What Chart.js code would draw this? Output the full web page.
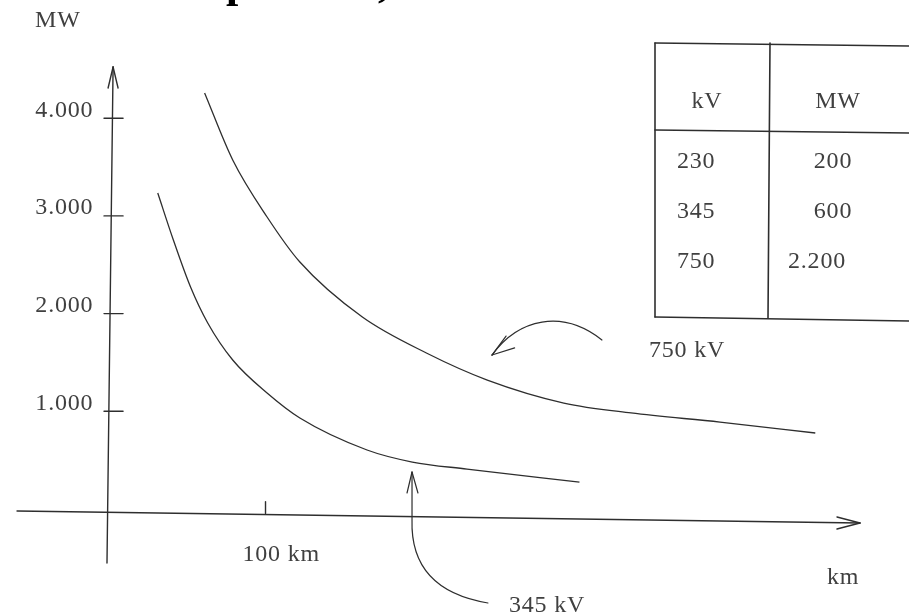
<!DOCTYPE html>
<html><head><meta charset="utf-8">
<script src="https://cdn.jsdelivr.net/npm/chart.js@4.4.0/dist/chart.umd.min.js"></script>
<style>html,body{margin:0;padding:0;background:#fff}#wrap{width:909px;height:616px;position:relative}</style>
</head><body><div id="wrap"><canvas id="c"></canvas></div>
<script>
// ---- data ----
const distanceKm345 = [31, 41, 52, 63, 79, 101, 122, 165, 194, 229, 301];
const powerMW345    = [3234, 2753, 2272, 1904, 1525, 1187, 931, 604, 481, 409, 276];
const distanceKm750 = [61, 79, 101, 122, 162, 203, 242, 291, 334, 391, 452];
const powerMW750    = [4258, 3572, 2989, 2528, 1965, 1597, 1320, 1085, 983, 890, 778];
const seriesLabels  = ['345 kV', '750 kV'];
const yTicks        = [1000, 2000, 3000, 4000];
const yTickLabels   = ['1.000', '2.000', '3.000', '4.000'];
const xTicks        = [100];
const xTickLabels   = ['100 km'];
const yAxisTitle    = 'MW';
const xAxisTitle    = 'km';
const tableHeader   = ['kV', 'MW'];
const tableKV       = ['230', '345', '750'];
const tableMW       = ['200', '600', '2.200'];

const INK = '#2e2e2e';
const TXT = '#404040';
const FONT = '24px "Liberation Serif", "Times New Roman", serif';

function toPts(xs, ys){ return xs.map((x,i)=>({x:x, y:ys[i]})); }

const drawPlugin = {
  id: 'sketch',
  afterDatasetsDraw(chart){
    const ctx = chart.ctx, xs = chart.scales.x, ys = chart.scales.y;
    const P = (km, mw) => [xs.getPixelForValue(km), ys.getPixelForValue(mw)];
    const line = (a, b) => { ctx.beginPath(); ctx.moveTo(a[0],a[1]); ctx.lineTo(b[0],b[1]); ctx.stroke(); };
    ctx.save();
    ctx.strokeStyle = INK; ctx.lineWidth = 1.4; ctx.lineCap = 'round';
    // y axis with arrow
    line(P(-1.5,-553), P(2.4,4524));
    line(P(-0.8,4309), P(2.4,4524));
    line(P(5.6,4309), P(2.4,4524));
    // x axis with arrow
    line(P(-59.1,-20), P(480.6,-143));
    line(P(465.9,-82), P(480.6,-143));
    line(P(465.9,-205), P(480.6,-143));
    // y ticks
    yTicks.forEach(v => line(P(-3.4,v), P(8.8,v)));
    // x ticks
    xTicks.forEach(v => line(P(v,-45), P(v,75)));

    // 750 kV pointer
    ctx.lineWidth = 1.2;
    let a = P(315.4,1730), c1 = P(290,2050), c2 = P(262,1950), b = P(245.0,1576);
    ctx.beginPath(); ctx.moveTo(a[0],a[1]); ctx.bezierCurveTo(c1[0],c1[1],c2[0],c2[1],b[0],b[1]); ctx.stroke();
    line(P(254.0,1770), b); line(P(259.5,1650), b);
    // 345 kV pointer
    a = P(242.4,-962); let c = P(192.5,-829); b = P(193.8,-113);
    const tip = P(193.8,379);
    ctx.beginPath(); ctx.moveTo(a[0],a[1]); ctx.quadraticCurveTo(c[0],c[1],b[0],b[1]); ctx.lineTo(tip[0],tip[1]); ctx.stroke();
    line(P(190.6,164), tip); line(P(197.6,164), tip);

    // text
    ctx.fillStyle = TXT; ctx.font = FONT;
    try { ctx.letterSpacing = '0.8px'; } catch(e) {}
    ctx.textBaseline = 'middle';
    ctx.textAlign = 'right';
    yTicks.forEach((v,i) => { const p = P(-11.5, v); ctx.fillText(yTickLabels[i], p[0]+2, p[1]-8); });
    ctx.textAlign = 'left';
    xTicks.forEach((v,i) => { const p = P(v, 0); ctx.fillText(xTickLabels[i], p[0]-23, p[1]+46); });
    ctx.fillText(yAxisTitle, 35, 21);
    ctx.fillText(xAxisTitle, 827, 578);
    ctx.fillText(seriesLabels[1], 649, 351);
    ctx.fillText(seriesLabels[0], 509, 606);

    // table
    ctx.strokeStyle = INK; ctx.lineWidth = 1.6;
    line([655,43],[909,46]); line([655,130],[909,133]); line([655,317],[909,321]);
    line([655,43],[655,317]); line([770,43],[768,318]);
    ctx.textAlign = 'center';
    ctx.fillText(tableHeader[0], 707, 102);
    ctx.fillText(tableHeader[1], 838, 102);
    const rowY = [162, 212, 262];
    tableKV.forEach((t,i) => { ctx.textAlign = 'left'; ctx.fillText(t, 677, rowY[i]); });
    tableMW.forEach((t,i) => {
      if (t.length > 3) { ctx.textAlign = 'left'; ctx.fillText(t, 788, rowY[i]); }
      else { ctx.textAlign = 'center'; ctx.fillText(t, 833, rowY[i]); }
    });

    // cut-off heading fragments at top edge
    ctx.fillStyle = '#000'; ctx.font = 'bold 44px "Liberation Serif", serif';
    ctx.textBaseline = 'alphabetic'; ctx.textAlign = 'left';
    try { ctx.letterSpacing = '0px'; } catch(e) {}
    ctx.fillText('p', 226, -3);
    ctx.fillText(',', 378, -3);
    ctx.restore();
  }
};

new Chart(document.getElementById('c'), {
  type: 'scatter',
  data: {
    datasets: [
      { label: seriesLabels[0], data: toPts(distanceKm345, powerMW345), showLine: true,
        borderColor: INK, borderWidth: 1.3, pointRadius: 0, cubicInterpolationMode: 'monotone', fill: false },
      { label: seriesLabels[1], data: toPts(distanceKm750, powerMW750), showLine: true,
        borderColor: INK, borderWidth: 1.3, pointRadius: 0, cubicInterpolationMode: 'monotone', fill: false }
    ]
  },
  options: {
    responsive: true, maintainAspectRatio: false, animation: false,
    layout: { padding: 0 },
    plugins: { legend: { display: false }, tooltip: { enabled: false }, title: { display: false } },
    scales: {
      x: { type: 'linear', min: -70, max: 512, display: false },
      y: { type: 'linear', min: -1095, max: 5210, display: false }
    }
  },
  plugins: [drawPlugin]
});
</script>
</body></html>
